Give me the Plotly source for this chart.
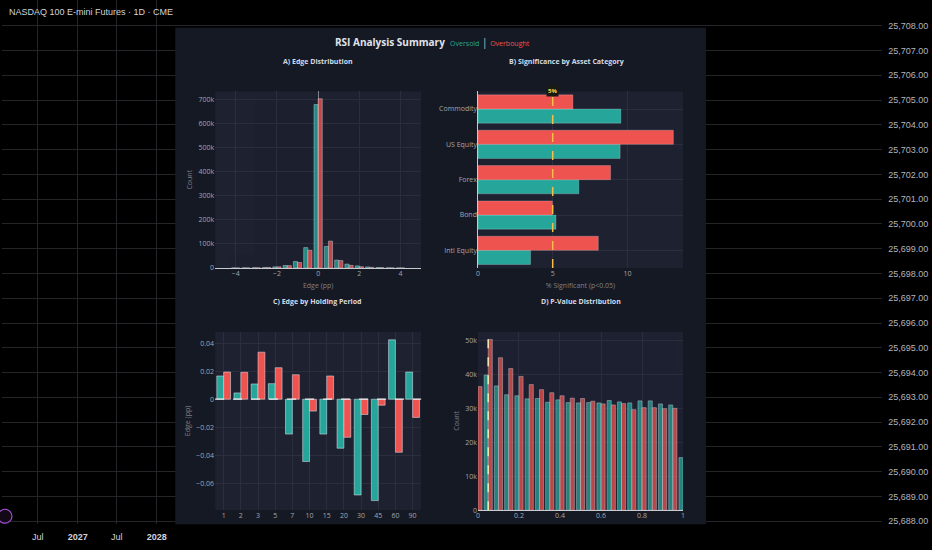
import pandas as pd
import plotly.graph_objects as go

W, H = 932, 550

# background price chart frame
chart_title = "NASDAQ 100 E-mini Futures · 1D · CME"
price_levels = list(range(25688, 25710))
time_tick_dates = ["2026-07-01", "2027-01-01", "2027-07-01", "2028-01-01"]
time_tick_text = ["Jul", "<b>2027</b>", "Jul", "<b>2028</b>"]

# A) Edge Distribution (bin centres, counts)
edge_bins = [-4, -3.5, -3, -2.5, -2, -1.5, -1, -0.5, 0, 0.5, 1, 1.5, 2, 2.5, 3, 3.5, 4]
edge_oversold = [500, 800, 1500, 2500, 5000, 10500, 27000, 85000, 680000, 90000,
                 33000, 16500, 9000, 4500, 2000, 1000, 500]
edge_overbought = [300, 500, 1000, 2500, 5000, 10000, 23000, 74000, 704000, 112000,
                   31000, 11000, 5500, 3000, 1500, 600, 300]

# B) Significance by Asset Category (% significant, p<0.05)
asset_cats = ["Intl Equity", "Bond", "Forex", "US Equity", "Commodity"]
sig_oversold = [3.52, 5.22, 6.75, 9.51, 9.56]
sig_overbought = [8.05, 4.98, 8.87, 13.07, 6.35]

# C) Edge by Holding Period
hold_periods = ["1", "2", "3", "5", "7", "10", "15", "20", "30", "45", "60", "90"]
hold_oversold = [0.0166, 0.0045, 0.0109, 0.0111, -0.0249, -0.0445, -0.0249, -0.035,
                 -0.0684, -0.0724, 0.0424, 0.0194]
hold_overbought = [0.0194, 0.0192, 0.0336, 0.0225, 0.0175, -0.0085, 0.0166, -0.0272,
                   -0.0109, -0.0043, -0.0379, -0.013]

# D) P-Value Distribution (bin centres, counts)
pval_bins = [0, 0.05, 0.1, 0.15, 0.2, 0.25, 0.3, 0.35, 0.4, 0.45, 0.5,
             0.55, 0.6, 0.65, 0.7, 0.75, 0.8, 0.85, 0.9, 0.95, 1.0]
pval_oversold = [None, 39800, 36600, 34000, 33700, 32800, 32900, 31800, 32500, 31700, 31600,
                 31700, 31600, 32300, 31900, 31600, 32200, 32200, 31300, 31000, 15500]
pval_overbought = [36400, 50300, 44900, 41700, 39400, 37000, 35500, 34600, 33700, 33000, 32900,
                   32100, 31300, 31000, 31400, 29600, 30200, 30200, 29900, 30000, None]

TEAL = "#26a69a"
RED = "#ef5350"
PANEL_BG = "#151924"
PLOT_BG = "#1d2130"
GRID = "#2b2f3d"
TICK = "#a3a6af"
AXT = "#7d808a"
FONT = "Open Sans"


def px(x):
    return x / W


def py(y):
    return 1 - y / H


fig = go.Figure()

# dummy trace so the background subplot exists
fig.add_trace(go.Scatter(x=[], y=[], xaxis="x", yaxis="y", showlegend=False, hoverinfo="skip"))

# A
fig.add_trace(go.Bar(x=edge_bins, y=edge_oversold, marker_color=TEAL, opacity=0.8,
                     xaxis="x2", yaxis="y2", name="Oversold"))
fig.add_trace(go.Bar(x=edge_bins, y=edge_overbought, marker_color=RED, opacity=0.8,
                     xaxis="x2", yaxis="y2", name="Overbought"))
# B
bar_line = dict(color="rgba(255,255,255,0.35)", width=0.6)
fig.add_trace(go.Bar(y=asset_cats, x=sig_oversold, orientation="h", marker_color=TEAL,
                     marker_line=bar_line, xaxis="x3", yaxis="y3", name="Oversold"))
fig.add_trace(go.Bar(y=asset_cats, x=sig_overbought, orientation="h", marker_color=RED,
                     marker_line=bar_line, xaxis="x3", yaxis="y3", name="Overbought"))
# C
fig.add_trace(go.Bar(x=hold_periods, y=hold_oversold, marker_color=TEAL,
                     xaxis="x4", yaxis="y4", name="Oversold"))
fig.add_trace(go.Bar(x=hold_periods, y=hold_overbought, marker_color=RED,
                     xaxis="x4", yaxis="y4", name="Overbought"))
# D
fig.add_trace(go.Bar(x=pval_bins, y=pval_oversold, marker_color=TEAL, opacity=0.75,
                     xaxis="x5", yaxis="y5", name="Oversold"))
fig.add_trace(go.Bar(x=pval_bins, y=pval_overbought, marker_color=RED, opacity=0.75,
                     xaxis="x5", yaxis="y5", name="Overbought"))

# background axes ranges (pixel calibration of the screenshot)
day_px = 40 / 184
t_ref = pd.Timestamp(time_tick_dates[0])
t0 = t_ref - pd.Timedelta(days=36 / day_px)
t1 = t_ref + pd.Timedelta(days=(884 - 36) / day_px)
p_px = 24.95
p_top = price_levels[-1] + 1 / p_px
p_bot = price_levels[0] - 3 / p_px


def tx(x):
    return t0 + pd.Timedelta(days=x / day_px)


def tp(y):
    return p_top - y / p_px


col1 = [px(214), px(421)]
col2 = [px(478), px(684)]
row1 = [py(270), py(92)]
row2 = [py(514), py(334)]

tickfont = dict(family=FONT, size=7, color=TICK)
titlefont = dict(family=FONT, size=7, color=AXT)

ranges = {
    "2": ([-5, 5], [0, 735000]),
    "3": ([0, 13.72], [-0.5, 4.5]),
    "4": ([-0.5, 11.5], [-0.0793, 0.0483]),
    "5": ([0, 1], [0, 52600]),
}

fig.update_layout(
    width=W, height=H, autosize=False,
    margin=dict(l=0, r=0, t=0, b=0),
    paper_bgcolor="#000000", plot_bgcolor="rgba(0,0,0,0)",
    showlegend=False, barmode="group", bargap=0.2, bargroupgap=0,
    font=dict(family=FONT, color=TICK),
    xaxis=dict(domain=[0, px(884)], anchor="y", type="date", range=[t0, t1],
               tickvals=time_tick_dates, ticktext=time_tick_text, tickmode="array",
               showgrid=True, gridcolor="#242528", zeroline=False, showline=False, ticks="",
               ticklabelstandoff=6, tickfont=dict(family="Liberation Sans", size=9, color="#d1d4dc")),
    yaxis=dict(domain=[py(528), 1], anchor="x", side="right", range=[p_bot, p_top],
               tickvals=price_levels, tickformat=",.2f", showgrid=True, gridcolor="#242528",
               zeroline=False, showline=False, ticks="", ticklabelstandoff=5,
               tickfont=dict(family="Liberation Sans", size=9, color="#b2b5be")),
    xaxis2=dict(domain=col1, anchor="y2", range=ranges["2"][0], dtick=2, gridcolor=GRID,
                zeroline=True, zerolinecolor="#80838c", zerolinewidth=1, tickfont=tickfont,
                title=dict(text="Edge (pp)", font=titlefont, standoff=6)),
    yaxis2=dict(domain=row1, anchor="x2", range=ranges["2"][1], dtick=100000, tickformat="~s",
                gridcolor=GRID, zeroline=True, zerolinecolor="#c8cad0", zerolinewidth=1.2,
                tickfont=tickfont, title=dict(text="Count", font=titlefont, standoff=4)),
    xaxis3=dict(domain=col2, anchor="y3", range=ranges["3"][0], dtick=5, gridcolor=GRID,
                zeroline=True, zerolinecolor="#c8cad0", zerolinewidth=1.2, tickfont=tickfont,
                title=dict(text="% Significant (p<0.05)", font=titlefont, standoff=6)),
    yaxis3=dict(domain=row1, anchor="x3", type="category", range=ranges["3"][1],
                gridcolor=GRID, tickfont=tickfont),
    xaxis4=dict(domain=col1, anchor="y4", type="category", range=ranges["4"][0],
                gridcolor=GRID, tickfont=tickfont),
    yaxis4=dict(domain=row2, anchor="x4", range=ranges["4"][1], dtick=0.02, gridcolor=GRID,
                zeroline=False, tickfont=tickfont,
                title=dict(text="Edge (pp)", font=titlefont, standoff=4)),
    xaxis5=dict(domain=col2, anchor="y5", range=ranges["5"][0], dtick=0.2, gridcolor=GRID,
                zeroline=False, tickfont=tickfont),
    yaxis5=dict(domain=row2, anchor="x5", range=ranges["5"][1], dtick=10000, tickformat="~s",
                gridcolor=GRID, zeroline=True, zerolinecolor="#c8cad0", zerolinewidth=1.2,
                tickfont=tickfont, title=dict(text="Count", font=titlefont, standoff=4)),
)

# dark summary panel over the price chart grid
fig.add_shape(type="rect", xref="x", yref="y", layer="between",
              x0=tx(174), x1=tx(707), y0=tp(530), y1=tp(28),
              fillcolor=PANEL_BG, line_width=0)

# subplot plot-area backgrounds
for k, (xr, yr) in ranges.items():
    fig.add_shape(type="rect", xref="x" + k, yref="y" + k, layer="below",
                  x0=xr[0], x1=xr[1], y0=yr[0], y1=yr[1],
                  fillcolor=PLOT_BG, line_width=0)

# reference lines
fig.add_shape(type="line", xref="x3", yref="y3 domain", x0=5, x1=5, y0=0, y1=1,
              line=dict(color="#f5c046", width=1.5, dash="dash"))
fig.add_shape(type="line", xref="x4 domain", yref="y4", x0=0, x1=1, y0=0, y1=0,
              line=dict(color="rgba(255,255,255,0.85)", width=1.2, dash="dash"))
fig.add_shape(type="line", xref="x5", yref="y5 domain", x0=0.05, x1=0.05, y0=0, y1=1,
              line=dict(color="#f3e7b0", width=1.5, dash="dash"))

# purple badge bottom-left
fig.add_shape(type="circle", xref="paper", yref="paper", layer="above",
              x0=px(-4), x1=px(10), y0=py(527), y1=py(513),
              line=dict(color="#a64fd6", width=1.2), fillcolor="#120818")

annotations = [
    dict(x=px(5), y=py(12), text=chart_title, xanchor="left", yanchor="middle",
         font=dict(family="Liberation Sans", size=9, color="#d1d4dc")),
    dict(x=px(432), y=py(42), xanchor="center", yanchor="middle",
         text="<b>RSI Analysis Summary</b>  <span style='color:%s;font-size:7px'>Oversold</span>"
              " <span style='color:#c8cad0'>|</span> <span style='color:%s;font-size:7px'>Overbought</span>"
              % (TEAL, RED),
         font=dict(family=FONT, size=10, color="#e0e3ea")),
    dict(x=px(317), y=py(62), text="<b>A) Edge Distribution</b>"),
    dict(x=px(567), y=py(62), text="<b>B) Significance by Asset Category</b>"),
    dict(x=px(317), y=py(304), text="<b>C) Edge by Holding Period</b>"),
    dict(x=px(581), y=py(304), text="<b>D) P-Value Distribution</b>"),
    dict(x=5, xref="x3", y=1, yref="y3 domain", text="<b>5%</b>", yanchor="middle",
         bgcolor="#1a1a14", borderpad=1, font=dict(family=FONT, size=6, color="#f5d24a")),
]
for a in annotations:
    a.setdefault("xref", "paper")
    a.setdefault("yref", "paper")
    a.setdefault("showarrow", False)
    a.setdefault("xanchor", "center")
    a.setdefault("yanchor", "middle")
    a.setdefault("font", dict(family=FONT, size=7, color="#d6d9e0"))
    fig.add_annotation(**a)

fig.write_html("out.html", config={"displayModeBar": False},
               post_script="document.body.style.margin='0px';")
